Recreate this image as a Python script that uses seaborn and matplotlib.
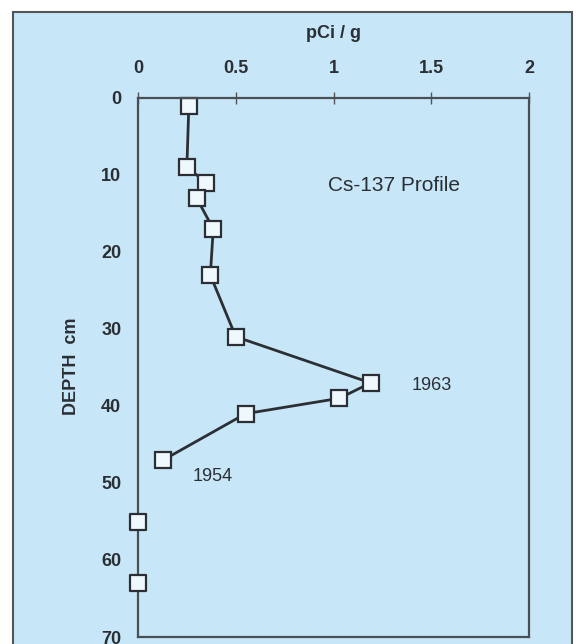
import matplotlib
matplotlib.use("Agg")
import matplotlib.pyplot as plt
import seaborn as sns
import pandas as pd
from matplotlib.patches import Rectangle

# Data
depth_line = [1, 9, 11, 13, 17, 23, 31, 37, 39, 41, 47]
pci_line = [0.26, 0.25, 0.35, 0.30, 0.385, 0.37, 0.50, 1.19, 1.03, 0.55, 0.13]
depth_extra = [55, 63]
pci_extra = [0.0, 0.0]
x_ticks = [0, 0.5, 1, 1.5, 2]
x_ticklabels = ["0", "0.5", "1", "1.5", "2"]
y_ticks = [0, 10, 20, 30, 40, 50, 60, 70]

sns.set_theme(style="white")
plt.rcParams['font.family'] = ['Liberation Sans', 'DejaVu Sans']

BLUE = "#C7E7F9"
INK = "#2b2f33"

fig = plt.figure(figsize=(5.76, 6.44), dpi=100, facecolor="white")
fig.patches.append(Rectangle((13/576, -0.05), (572-13)/576, 1 - 12/644 + 0.05,
                             transform=fig.transFigure, facecolor=BLUE,
                             edgecolor="#555555", linewidth=1.5, zorder=-10))

ax = fig.add_axes([138/576, 1 - 637/644, (529-138)/576, (637-98)/644])
ax.set_facecolor(BLUE)

df = pd.DataFrame({"pci": pci_line, "depth": depth_line})
sns.lineplot(data=df, x="pci", y="depth", sort=False, estimator=None, ax=ax,
             color=INK, linewidth=2, marker="s", markersize=11,
             markerfacecolor="#EEF8FD", markeredgecolor=INK, markeredgewidth=1.6)
df2 = pd.DataFrame({"pci": pci_extra, "depth": depth_extra})
sns.scatterplot(data=df2, x="pci", y="depth", ax=ax, marker="s", s=120,
                facecolor="#EEF8FD", edgecolor=INK, linewidth=1.6, zorder=5,
                clip_on=False)
for line in ax.lines:
    line.set_clip_on(False)

ax.set_xlim(0, 2)
ax.set_ylim(70, 0)
ax.set_xticks(x_ticks)
ax.set_xticklabels(x_ticklabels)
ax.set_yticks(y_ticks)
ax.xaxis.tick_top()
ax.xaxis.set_label_position("top")
ax.tick_params(axis="both", direction="inout", length=8, width=1, color="#555555",
               labelsize=13, labelcolor=INK)
ax.tick_params(axis="x", pad=11)
ax.tick_params(axis="y", pad=8)
for t in ax.get_xticklabels() + ax.get_yticklabels():
    t.set_fontweight("bold")
for s in ax.spines.values():
    s.set_color("#4a4f55")
    s.set_linewidth(1.6)
    s.set_visible(True)

ax.set_xlabel("pCi / g", fontsize=13, fontweight="bold", color=INK)
ax.xaxis.set_label_coords(0.5, 1 + (98 - 34) / 539)
ax.xaxis.label.set_va("center")
ax.set_ylabel("DEPTH  cm", fontsize=13, fontweight="bold", color=INK)
ax.yaxis.set_label_coords((72 - 138) / 391, (637 - 366) / 539)
ax.yaxis.label.set_va("center")

ax.text(1.31, 11.4, "Cs-137 Profile", fontsize=15, color=INK, ha="center", va="center")
ax.text(1.505, 37.3, "1963", fontsize=13, color=INK, ha="center", va="center")
ax.text(0.384, 49.1, "1954", fontsize=13, color=INK, ha="center", va="center")

fig.savefig("out.png", dpi=100, facecolor="white")
